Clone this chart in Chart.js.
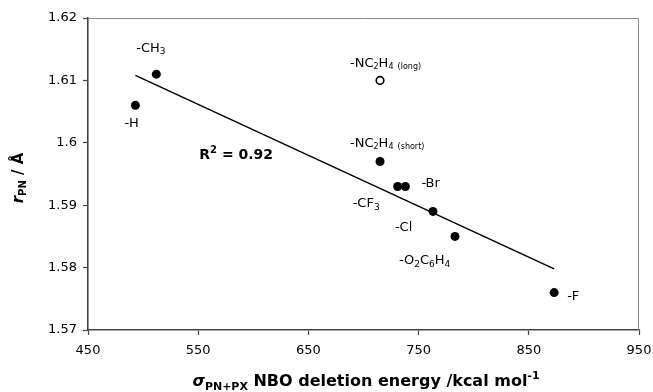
<!DOCTYPE html>
<html>
<head>
<meta charset="utf-8">
<script src="https://cdn.jsdelivr.net/npm/chart.js@4.4.1/dist/chart.umd.min.js"></script>
<style>
  html, body { margin: 0; padding: 0; background: #fff; }
  #wrap { width: 653px; height: 392px; }
</style>
</head>
<body>
<div id="wrap"><canvas id="chart"></canvas></div>
<script>
// =====================================================
// DATA
// =====================================================

const xValues     = [493, 512, 715, 731, 738, 763, 783, 873]
const yValues     = [1.606, 1.611, 1.597, 1.593, 1.593, 1.589, 1.585, 1.576]
const pointLabels = ['-H', '-CH_{3}', '-NC_{2}H_{4} _{(short)}', '-CF_{3}', '-Br', '-Cl', '-O_{2}C_{6}H_{4}', '-F']

const openX      = [715]
const openY      = [1.610]
const openLabels = ['-NC_{2}H_{4} _{(long)}']

const trendX = [493, 873]
const trendY = [1.6108, 1.5798]

const xTicks = [450, 550, 650, 750, 850, 950]
const yTicks = [1.57, 1.58, 1.59, 1.60, 1.61, 1.62]
const yTickLabels = ['1.57', '1.58', '1.59', '1.6', '1.61', '1.62']

const r2Text = 'R^{2} = 0.92'
const r2At   = [551, 1.598]

const xTitle = '*σ**_{PN+PX} NBO deletion energy /kcal mol^{-1}'
const yTitle = '*r*_{PN} / Å'

// label offsets in px from their point
const labelOffsets = [[-11, 18], [-20, -26], [-30, -18], [-45, 17], [16, -3], [-38, 16], [-56, 24], [13, 4]]
const openOffsets  = [[-30, -17]]

const FONT = "'DejaVu Sans', Verdana, sans-serif"

// =====================================================
// RICH TEXT (sub/sup/italic)
// =====================================================

function parseRich(str) {
  const out = []
  const re = /([_^])\{([^}]*)\}|\*([^*]*)\*|([^_^*]+)/g
  let m
  while ((m = re.exec(str))) {
    if (m[1]) out.push({ t: m[2], mode: m[1] === '_' ? 'sub' : 'sup' })
    else if (m[3] !== undefined) out.push({ t: m[3], mode: 'it' })
    else out.push({ t: m[4], mode: 'n' })
  }
  return out
}

function drawRich(ctx, str, x, y, o) {
  const size = o.size || 13
  const wt   = o.bold ? 'bold ' : ''
  const parts = parseRich(str).map(p => {
    const small = p.mode === 'sub' || p.mode === 'sup'
    const s = small ? Math.round(size * (o.subScale || 0.72)) : size
    const font = (p.mode === 'it' ? 'italic ' : '') + wt + s + 'px ' + FONT
    ctx.font = font
    return { ...p, font, w: ctx.measureText(p.t).width,
      dy: p.mode === 'sub' ? size * 0.3 : p.mode === 'sup' ? -size * 0.38 : 0 }
  })
  const total = parts.reduce((s, p) => s + p.w, 0)
  let cx = o.align === 'center' ? x - total / 2 : x
  ctx.save()
  ctx.fillStyle = '#000'
  ctx.textBaseline = 'middle'
  ctx.textAlign = 'left'
  parts.forEach(p => {
    ctx.font = p.font
    ctx.fillText(p.t, cx, y + p.dy)
    cx += p.w
  })
  ctx.restore()
}

// =====================================================
// PLUGIN: frame, labels, titles
// =====================================================

const decor = {
  id: 'decor',
  afterDatasetsDraw(chart) {
    const { ctx, chartArea: a, scales: { x, y } } = chart

    // thin frame on top / right
    ctx.save()
    ctx.strokeStyle = '#8a8a8a'
    ctx.lineWidth = 1
    ctx.beginPath()
    ctx.moveTo(a.left, a.top + 0.5)
    ctx.lineTo(a.right - 0.5, a.top + 0.5)
    ctx.lineTo(a.right - 0.5, a.bottom)
    ctx.stroke()
    ctx.restore()

    pointLabels.forEach((lab, i) => {
      const px = x.getPixelForValue(xValues[i]) + labelOffsets[i][0]
      const py = y.getPixelForValue(yValues[i]) + labelOffsets[i][1]
      drawRich(ctx, lab, px, py, { size: 13, subScale: lab.includes('(') ? 0.62 : 0.72 })
    })
    openLabels.forEach((lab, i) => {
      const px = x.getPixelForValue(openX[i]) + openOffsets[i][0]
      const py = y.getPixelForValue(openY[i]) + openOffsets[i][1]
      drawRich(ctx, lab, px, py, { size: 13, subScale: 0.62 })
    })

    drawRich(ctx, r2Text, x.getPixelForValue(r2At[0]), y.getPixelForValue(r2At[1]), { size: 14, bold: true })

    // axis titles
    drawRich(ctx, xTitle, 366, 382, { size: 16, bold: true, align: 'center', subScale: 0.68 })
    ctx.save()
    ctx.translate(19, 178)
    ctx.rotate(-Math.PI / 2)
    drawRich(ctx, yTitle, 0, 0, { size: 15, bold: true, align: 'center', subScale: 0.68 })
    ctx.restore()
  }
}

// =====================================================
// CHART
// =====================================================

new Chart(document.getElementById('chart').getContext('2d'), {
  type: 'scatter',
  data: {
    datasets: [
      {
        data: xValues.map((v, i) => ({ x: v, y: yValues[i] })),
        pointRadius: 4.5,
        pointBackgroundColor: '#000',
        pointBorderColor: '#000',
        pointBorderWidth: 0
      },
      {
        data: openX.map((v, i) => ({ x: v, y: openY[i] })),
        pointRadius: 3.8,
        pointBackgroundColor: '#fff',
        pointBorderColor: '#000',
        pointBorderWidth: 1.6
      },
      {
        type: 'line',
        data: trendX.map((v, i) => ({ x: v, y: trendY[i] })),
        borderColor: '#000',
        borderWidth: 1.5,
        pointRadius: 0,
        fill: false
      }
    ]
  },
  options: {
    responsive: true,
    maintainAspectRatio: false,
    animation: false,
    layout: { padding: { left: 0, right: 0, top: 18, bottom: 0 } },
    plugins: {
      legend: { display: false },
      tooltip: { enabled: false }
    },
    scales: {
      x: {
        type: 'linear',
        min: 450,
        max: 950,
        afterBuildTicks: s => { s.ticks = xTicks.map(v => ({ value: v })) },
        afterFit: s => { s.height = 62; s.paddingRight = 14; s.paddingLeft = 0 },
        ticks: { color: '#000', font: { family: FONT, size: 13 }, padding: 8, maxRotation: 0 },
        grid: { drawOnChartArea: false, tickLength: 5, color: '#444', tickWidth: 1.2 },
        border: { color: '#444', width: 1.6 }
      },
      y: {
        type: 'linear',
        min: 1.57,
        max: 1.62,
        afterBuildTicks: s => { s.ticks = yTicks.map(v => ({ value: v })) },
        afterFit: s => { s.width = 88 },
        ticks: {
          color: '#000',
          font: { family: FONT, size: 13 },
          padding: 6,
          callback: v => yTickLabels[yTicks.findIndex(t => Math.abs(t - v) < 1e-6)]
        },
        grid: { drawOnChartArea: false, tickLength: 5, color: '#444', tickWidth: 1.2 },
        border: { color: '#444', width: 1.6 }
      }
    }
  },
  plugins: [decor]
})
</script>
</body>
</html>
